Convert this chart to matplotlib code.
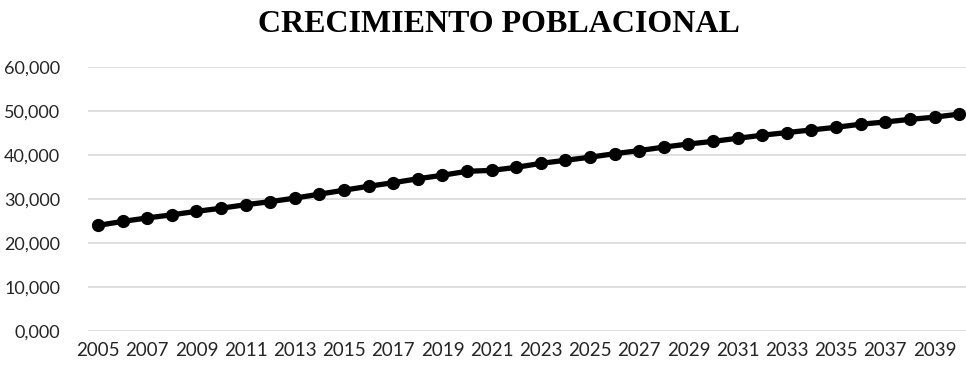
import matplotlib.pyplot as plt
from matplotlib.ticker import FuncFormatter

# Population per year (inhabitants)
years = list(range(2005, 2041))
population = [24000, 24900, 25700, 26400, 27200, 27900, 28700, 29400, 30200, 31100,
              32000, 32900, 33700, 34600, 35400, 36300, 36500, 37200, 38100, 38800,
              39500, 40300, 41000, 41800, 42500, 43100, 43800, 44500, 45100, 45700,
              46300, 47000, 47500, 48100, 48600, 49300]
year_ticks = list(range(2005, 2040, 2))
pop_ticks = [0, 10000, 20000, 30000, 40000, 50000, 60000]

fig = plt.figure(figsize=(9.66, 3.70), dpi=100)
ax = fig.add_axes([0.091, 0.1054, 0.909, 0.7135])

ax.plot(years, population, color='black', linewidth=3.8, marker='o',
        markersize=8.5, solid_capstyle='round', zorder=3)

ax.set_xlim(2004.59, 2040.28)
ax.set_ylim(0, 60000)
ax.set_xticks(year_ticks)
ax.set_yticks(pop_ticks)

# thousands written as "10,000" with a leading "0,000" at zero
ax.yaxis.set_major_formatter(FuncFormatter(lambda v, p: '{},{:03d}'.format(int(v) // 1000, 0)))

ax.grid(axis='y', color='#d9d9d9', linewidth=1.2, zorder=0)
for s in ax.spines.values():
    s.set_visible(False)
ax.tick_params(axis='x', length=0, labelsize=13.5, colors='#262626', pad=8)
ax.tick_params(axis='y', length=0, labelsize=13, colors='#262626', pad=20)
for lab in ax.get_xticklabels() + ax.get_yticklabels():
    lab.set_fontfamily('Lato')

fig.text(0.517, 0.935, 'CRECIMIENTO POBLACIONAL', ha='center', va='center',
         fontsize=23, fontweight='bold', fontfamily='Liberation Serif')

plt.savefig('out.png', dpi=100)
